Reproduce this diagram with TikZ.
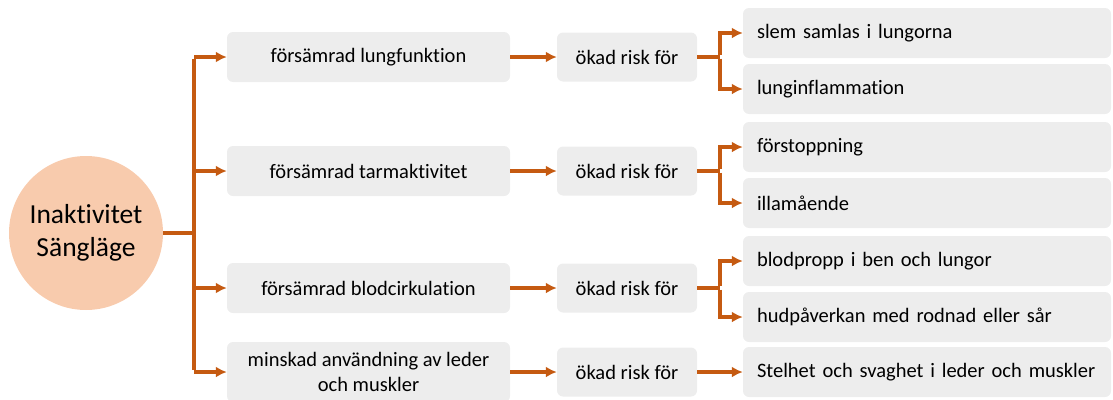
\documentclass[tikz,border=0pt]{standalone}
\usepackage{fontspec}
\setmainfont{Carlito}[Ligatures=NoCommon]
\usetikzlibrary{arrows.meta}
\definecolor{conn}{HTML}{C55A11}
\definecolor{boxfill}{HTML}{EDEDED}
\definecolor{circfill}{HTML}{F8CBAD}
\begin{document}
\begin{tikzpicture}[x=1pt,y=-1pt,
  lvone/.style={fill=boxfill,rounded corners=6pt,minimum width=283pt,minimum height=50pt,inner sep=2pt,align=center,font=\fontsize{20.5}{25}\selectfont},
  lvtwo/.style={fill=boxfill,rounded corners=6pt,minimum width=140pt,minimum height=49pt,inner sep=2pt,font=\fontsize{20.5}{25}\selectfont},
  lvthree/.style={fill=boxfill,rounded corners=6pt,minimum width=368pt,minimum height=50pt,text width=340pt,inner sep=0pt,align=left,font=\fontsize{20.5}{25}\selectfont},
  conline/.style={draw=conn,line width=3.4pt},
  conarrow/.style={draw=conn,line width=3.4pt,-{Latex[length=11pt,width=11pt]}}
]
\useasboundingbox (0,0) rectangle (1113,399);
% root
\node[circle,fill=circfill,minimum size=154pt,inner sep=0pt,align=center,font=\fontsize{27.5}{33}\selectfont] (root) at (86,233) {Inaktivitet\\Sängläge};
% level 1
\node[lvone] (a1) at (368.5,57) {försämrad lungfunktion};
\node[lvone] (a2) at (368.5,171) {försämrad tarmaktivitet};
\node[lvone] (a3) at (368.5,288) {försämrad blodcirkulation};
\node[lvone,minimum height=60pt] (a4) at (368.5,372) {minskad användning av leder\\och muskler};
% level 2
\node[lvtwo] (b1) at (627,57) {ökad risk för};
\node[lvtwo] (b2) at (627,171) {ökad risk för};
\node[lvtwo] (b3) at (627,288) {ökad risk för};
\node[lvtwo] (b4) at (627,372) {ökad risk för};
% level 3
\node[lvthree] (c1) at (927,33) {slem samlas i lungorna};
\node[lvthree] (c2) at (927,89) {lunginflammation};
\node[lvthree] (c3) at (927,147) {förstoppning};
\node[lvthree] (c4) at (927,203) {illamående};
\node[lvthree] (c5) at (927,261) {blodpropp i ben och lungor};
\node[lvthree] (c6) at (927,317) {hudpåverkan med rodnad eller sår};
\node[lvthree] (c7) at (927,372) {Stelhet och svaghet i leder och muskler};
% trunk
\coordinate (t0) at (194,233);
\coordinate (t1) at (194,57);
\coordinate (t2) at (194,171);
\coordinate (t3) at (194,288);
\coordinate (t4) at (194,372);
\draw[conline] (root.east) -- (t0);
\draw[conline] ([yshift=-1.7pt]t1) -- ([yshift=1.7pt]t4);
\draw[conarrow] (t1) -- (a1.west);
\draw[conarrow] (t2) -- (a2.west);
\draw[conarrow] (t3) -- (a3.west);
\draw[conarrow] (t4) -- (a4.west);
% level1 -> level2
\draw[conarrow] (a1.east) -- (b1.west);
\draw[conarrow] (a2.east) -- (b2.west);
\draw[conarrow] (a3.east) -- (b3.west);
\draw[conarrow] (a4.east) -- (b4.west);
% forks
\coordinate (f1) at (720,57);
\coordinate (f2) at (720,171);
\coordinate (f3) at (720,288);
\draw[conline] (b1.east) -- (f1);
\draw[conarrow] ([yshift=1.7pt]f1) |- (c1.west);
\draw[conarrow] ([yshift=-1.7pt]f1) |- (c2.west);
\draw[conline] (b2.east) -- (f2);
\draw[conarrow] ([yshift=1.7pt]f2) |- (c3.west);
\draw[conarrow] ([yshift=-1.7pt]f2) |- (c4.west);
\draw[conline] (b3.east) -- (f3);
\draw[conarrow] ([yshift=1.7pt]f3) |- (c5.west);
\draw[conarrow] ([yshift=-1.7pt]f3) |- (c6.west);
\draw[conarrow] (b4.east) -- (c7.west);
\end{tikzpicture}
\end{document}
